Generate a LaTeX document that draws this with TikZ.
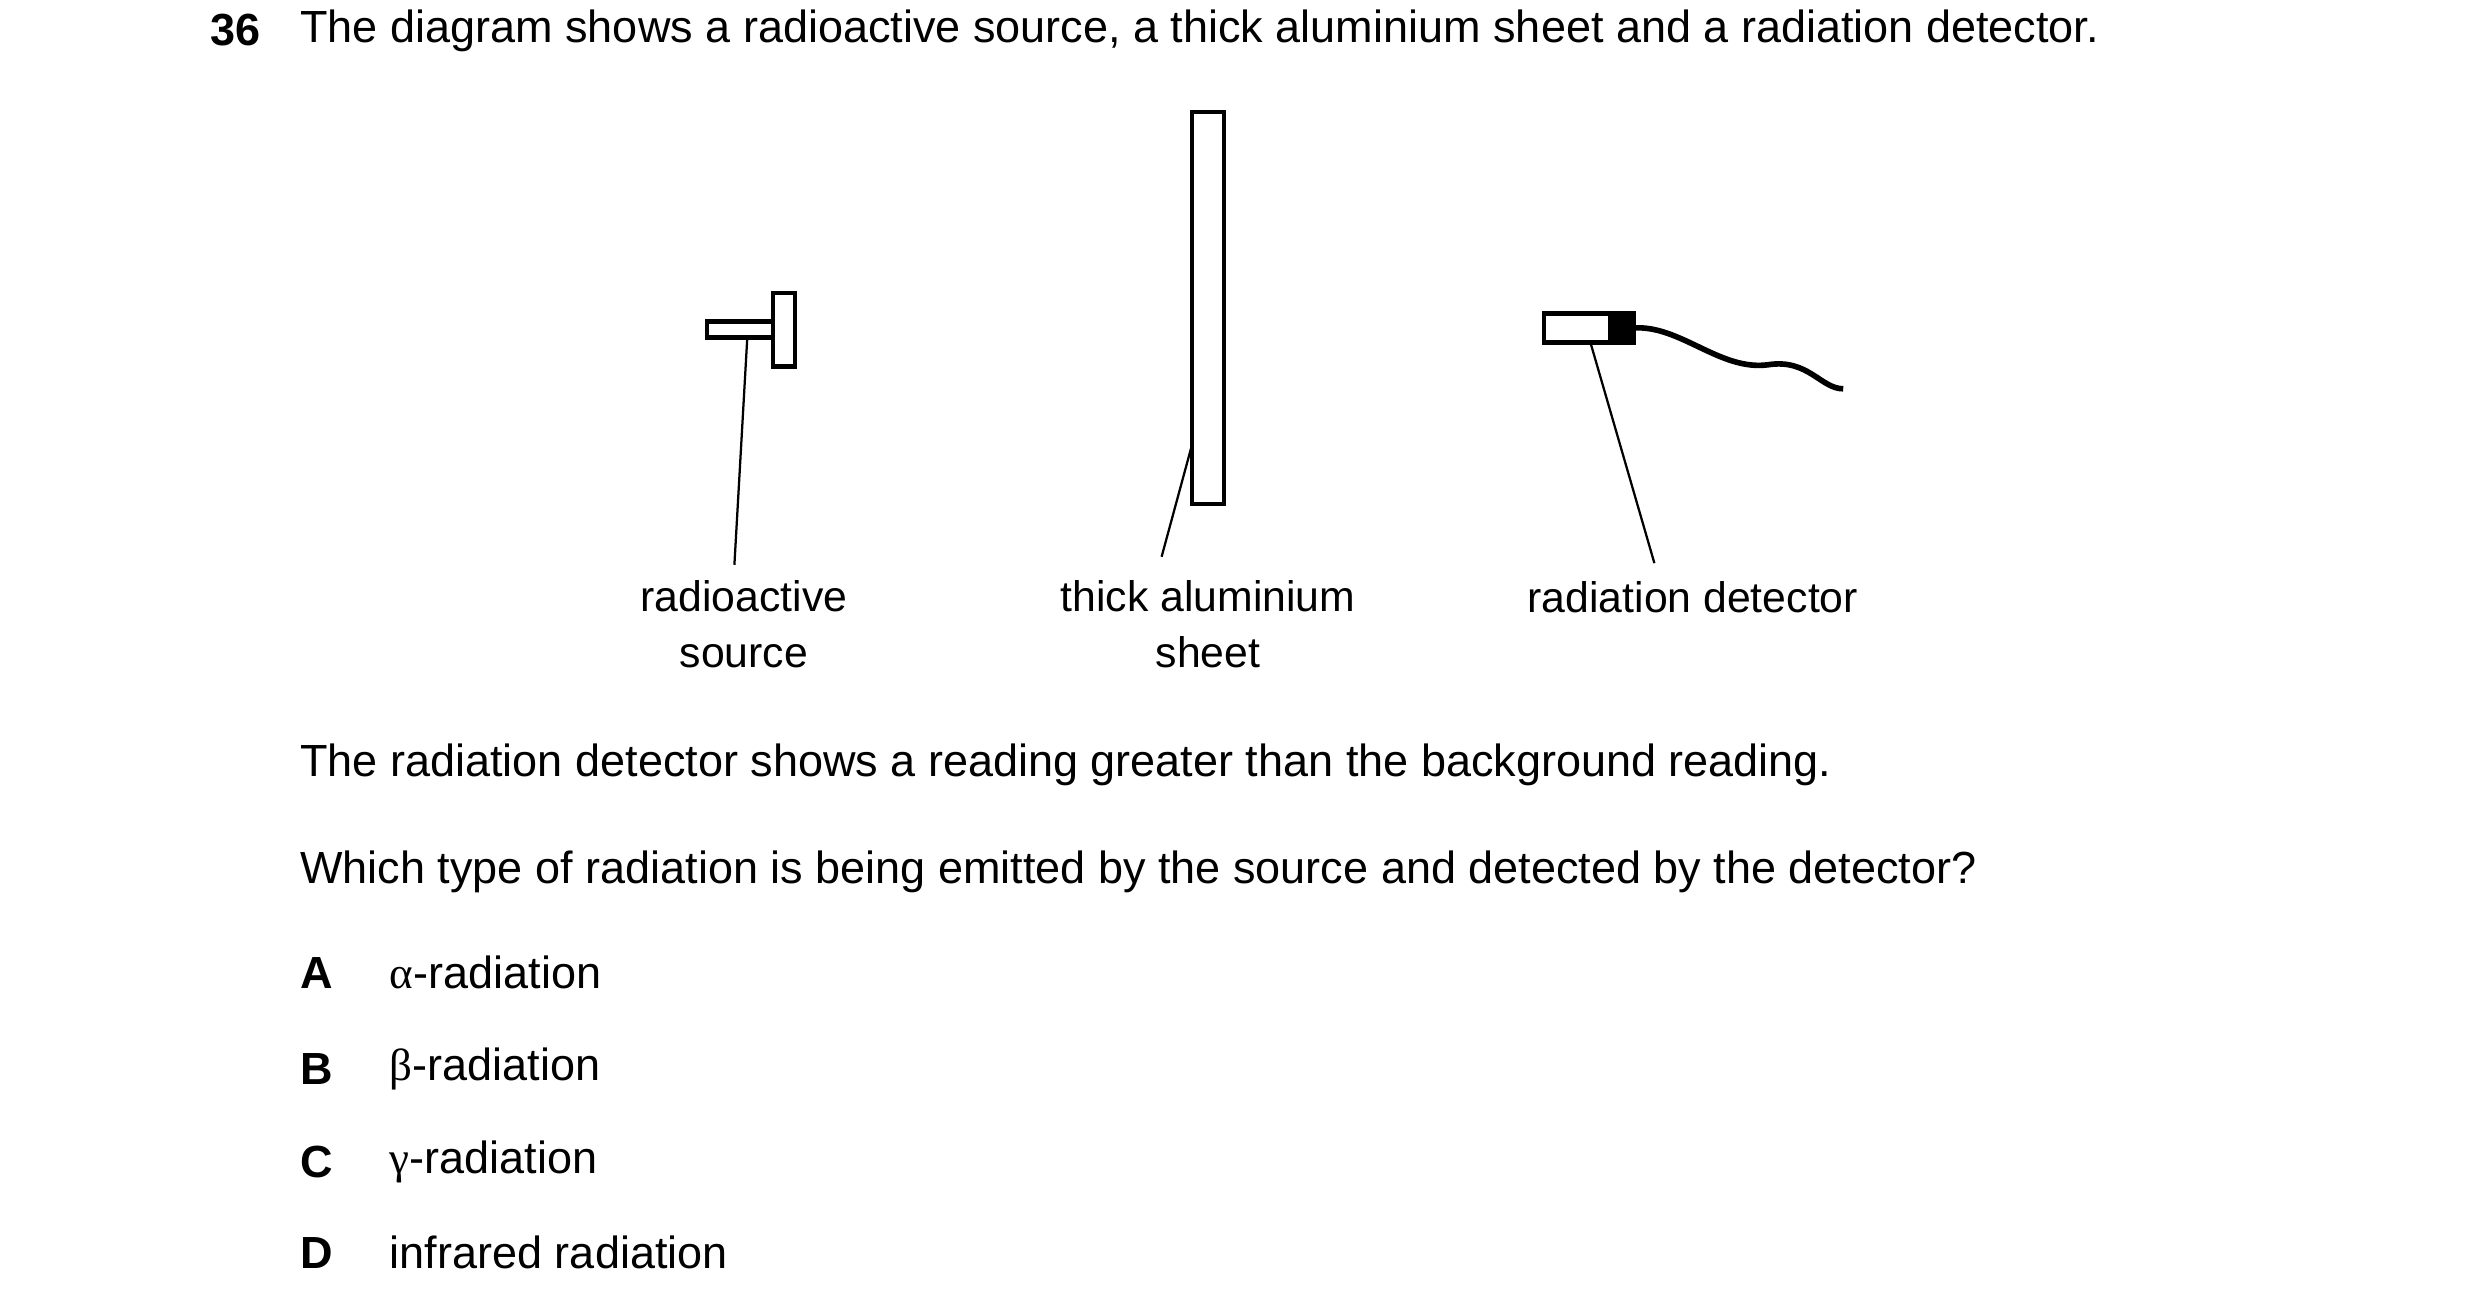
\documentclass[tikz,border=0pt]{standalone}
\usepackage{fontspec}
\setmainfont{Liberation Sans}
\newfontfamily\grk{Liberation Serif}
\usetikzlibrary{positioning}
\tikzset{
  txt/.style={anchor=west, inner sep=0pt, font=\fontsize{8pt}{10pt}\selectfont},
  lbl/.style={align=center, inner sep=0pt, font=\fontsize{7.6pt}{10pt}\selectfont},
  part/.style={draw, line width=0.8pt},
  lead/.style={line width=0.4pt},
}
\begin{document}
\begin{tikzpicture}[x=0.01cm, y=-0.01cm]
            \useasboundingbox (0,0) rectangle (1550,810);
            % question
            \node[txt, font=\bfseries\fontsize{8pt}{10pt}\selectfont] (num) at (131,19) {36};
            \node[txt] (q) at (187,19) {The diagram shows a radioactive source, a thick aluminium sheet and a radiation detector.};

            % source
            \draw[part] (442,201) rectangle (483,211);
            \draw[part] (483,183) rectangle (497,229);
            \coordinate (src) at (467,212);
            % sheet
            \draw[part] (745,70) rectangle (765,315);
            \coordinate (sht) at (745,278);
            % detector
            \draw[part] (965,196) rectangle (1021,214);
            \fill (1005,196) rectangle (1021,214);
            \coordinate (det) at (994,214);
            \coordinate (cab) at (1021,205);
            \coordinate (cabend) at (1152,243);
            \draw[line width=1pt] (cab) .. controls (1050,203) and (1075,232) .. (1105,228)
                .. controls (1130,224) and (1138,243) .. (cabend);

            \node[lbl] (srclbl) at (465,390) {radioactive\\source};
            \node[lbl] (shtlbl) at (755,390) {thick aluminium\\sheet};
            \node[lbl] (detlbl) at (1058,373) {radiation detector};
            \draw[lead] (src) -- (459,353);
            \draw[lead] (sht) -- (726,348);
            \draw[lead] (det) -- (1034,352);

            \node[txt] (s1) at (187,478) {The radiation detector shows a reading greater than the background reading.};
            \node[txt] (s2) at (187,545) {Which type of radiation is being emitted by the source and detected by the detector?};

            % options
            \foreach \l/\t/\y in {A/{{\grk α}-radiation}/608, B/{{\grk β}-radiation}/668, C/{{\grk γ}-radiation}/726, D/{infrared radiation}/783} {
              \node[txt, font=\bfseries\fontsize{8pt}{10pt}\selectfont] (opt\l) at (187,\y) {\l};
              \node[txt] (ans\l) at (243,\y) {\t};
            }
        \end{tikzpicture}
\end{document}
